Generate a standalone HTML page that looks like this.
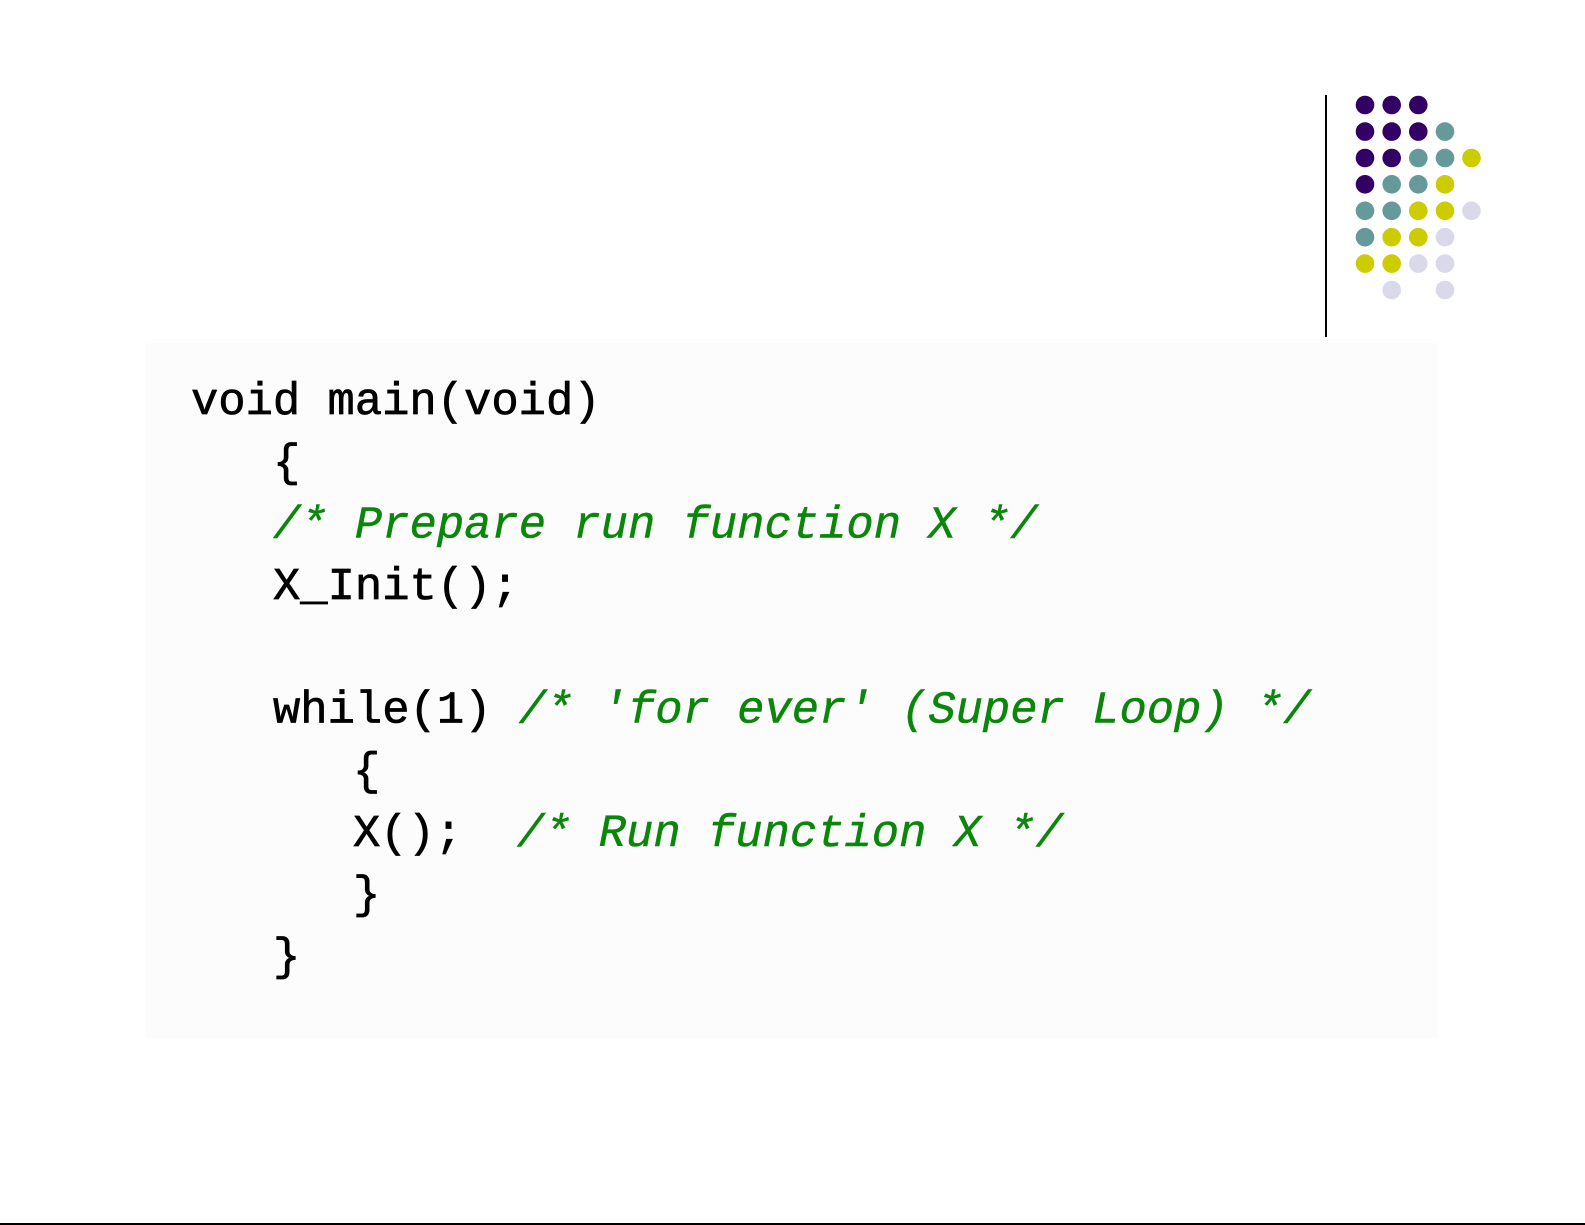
<!DOCTYPE html>
<html>
<head>
<meta charset="utf-8">
<style>
  html,body{margin:0;padding:0;background:#ffffff;}
  body{width:1585px;height:1225px;overflow:hidden;position:relative;}
  svg{position:absolute;left:0;top:0;}
  .code{font-family:"Liberation Mono","DejaVu Sans Mono",monospace;font-size:45.5px;fill:#000;stroke:#000;stroke-width:0.7px;}
  .cm{fill:#0a870a;stroke:#0a870a;stroke-width:0.5px;font-style:italic;}
</style>
</head>
<body>
<svg width="1585" height="1225" viewBox="0 0 1585 1225" xmlns="http://www.w3.org/2000/svg">
  <rect x="0" y="0" width="1585" height="1225" fill="#ffffff"/>
  <!-- code background -->
  <rect x="145" y="343" width="1293" height="695" fill="#fcfcfc"/>
  <!-- vertical divider -->
  <rect x="1325" y="95" width="2" height="242" fill="#000"/>
  <!-- bottom line -->
  <rect x="0" y="1223" width="1585" height="2" fill="#000"/>

  <!-- dot grid -->
  <g>
    <circle cx="1365" cy="105" r="9.3" fill="#330066"/>
    <circle cx="1391.7" cy="105" r="9.3" fill="#330066"/>
    <circle cx="1418.3" cy="105" r="9.3" fill="#330066"/>

    <circle cx="1365" cy="131.6" r="9.3" fill="#330066"/>
    <circle cx="1391.7" cy="131.6" r="9.3" fill="#330066"/>
    <circle cx="1418.3" cy="131.6" r="9.3" fill="#330066"/>
    <circle cx="1445" cy="131.6" r="9.3" fill="#669999"/>

    <circle cx="1365" cy="158" r="9.3" fill="#330066"/>
    <circle cx="1391.7" cy="158" r="9.3" fill="#330066"/>
    <circle cx="1418.3" cy="158" r="9.3" fill="#669999"/>
    <circle cx="1445" cy="158" r="9.3" fill="#669999"/>
    <circle cx="1471.5" cy="158" r="9.3" fill="#cccc00"/>

    <circle cx="1365" cy="184.3" r="9.3" fill="#330066"/>
    <circle cx="1391.7" cy="184.3" r="9.3" fill="#669999"/>
    <circle cx="1418.3" cy="184.3" r="9.3" fill="#669999"/>
    <circle cx="1445" cy="184.3" r="9.3" fill="#cccc00"/>

    <circle cx="1365" cy="210.8" r="9.3" fill="#669999"/>
    <circle cx="1391.7" cy="210.8" r="9.3" fill="#669999"/>
    <circle cx="1418.3" cy="210.8" r="9.3" fill="#cccc00"/>
    <circle cx="1445" cy="210.8" r="9.3" fill="#cccc00"/>
    <circle cx="1471.5" cy="210.8" r="9.3" fill="#d9d9ea"/>

    <circle cx="1365" cy="237.2" r="9.3" fill="#669999"/>
    <circle cx="1391.7" cy="237.2" r="9.3" fill="#cccc00"/>
    <circle cx="1418.3" cy="237.2" r="9.3" fill="#cccc00"/>
    <circle cx="1445" cy="237.2" r="9.3" fill="#d9d9ea"/>

    <circle cx="1365" cy="263.6" r="9.3" fill="#cccc00"/>
    <circle cx="1391.7" cy="263.6" r="9.3" fill="#cccc00"/>
    <circle cx="1418.3" cy="263.6" r="9.3" fill="#d9d9ea"/>
    <circle cx="1445" cy="263.6" r="9.3" fill="#d9d9ea"/>

    <circle cx="1391.7" cy="290" r="9.3" fill="#d9d9ea"/>
    <circle cx="1445" cy="290" r="9.3" fill="#d9d9ea"/>
  </g>

  <!-- code text -->
  <g class="code">
    <text x="191" y="414">void main(void)</text>
    <text x="273" y="475.7">{</text>
    <text x="273" y="537.4" class="cm">/* Prepare run function X */</text>
    <text x="273" y="599.1">X_Init();</text>
    <text x="273" y="722.5">while(1) <tspan class="cm">/* 'for ever' (Super Loop) */</tspan></text>
    <text x="353" y="784.2">{</text>
    <text x="353" y="845.9">X();&#160; <tspan class="cm">/* Run function X */</tspan></text>
    <text x="353" y="907.6">}</text>
    <text x="273" y="969.3">}</text>
  </g>
</svg>
</body>
</html>
